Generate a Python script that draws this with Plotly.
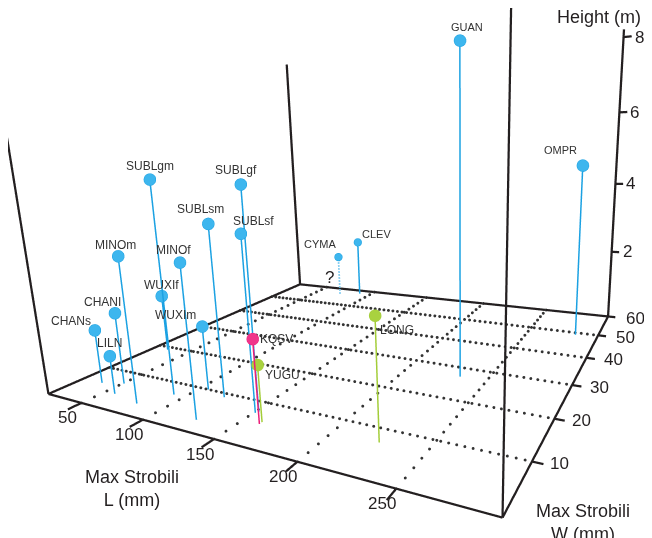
import plotly.graph_objects as go

# ---------------- data ----------------
names = ["CHANs", "CHANI", "LILN", "MINOm", "WUXIf", "SUBLgm", "MINOf", "WUXIm",
         "SUBLsm", "SUBLsf", "SUBLgf", "KQSV", "YUGU", "CYMA", "CLEV", "LONG",
         "GUAN", "OMPR"]
strobili_L = [37, 51, 58, 81, 32, 92, 127, 106, 122, 151, 152, 161, 161, 75, 90, 226, 234, 281]
strobili_W = [5.6, 6.7, 3.8, 2.9, 19, 6.9, 2.7, 10, 9, 7.1, 7.5, 5, 5.5, 56, 58, 7, 27, 49]
height_m = [1.4, 1.85, 0.97, 3.5, 1.6, 5.1, 3.5, 1.6, 4.1, 4.0, 5.0, 1.9, 1.3, 1.4, 1.9, 2.6, 7.7, 4.7]
group = ["blue"] * 11 + ["pink", "green", "blue", "blue", "green", "blue", "blue"]
uncertain = ["CYMA"]

x_ticks = [50, 100, 150, 200, 250]
y_ticks = [10, 20, 30, 40, 50, 60]
z_ticks = [2, 4, 6, 8]
x_lim = (20, 295)
y_lim = (0, 60)
z_lim = (0, 8.2)

# ---------------- layout constants ----------------
OFF = 8                      # default page margin of the html body
W, H = 644, 530
XR = (14, 301); YR = (-3, 63); ZR = (-0.1, 8.3)
camera = dict(eye=dict(x=0.6881, y=-1.2433, z=0.1784),
              center=dict(x=-0.0116, y=-0.0902, z=-0.1435),
              up=dict(x=0.0412, y=0.0243, z=1),
              projection=dict(type="perspective"))
aspect = dict(x=1, y=1.0627, z=0.7218)

colors = {"blue": "#1ba1e2", "pink": "#ec1e79", "green": "#a3cd39"}
ball_colors = {"blue": "#3db6ee", "pink": "#f0358a", "green": "#a9d23f"}
INK = "#231f20"

fig = go.Figure()

# floor grid, dotted
gx, gy, gz = [], [], []
for xv in x_ticks:
    yv = float(y_lim[0])
    while yv <= y_lim[1] + 1e-9:
        gx.append(xv); gy.append(yv); gz.append(0); yv += 2.0
for yv in y_ticks[:-1]:
    xv = float(x_lim[0])
    while xv <= x_lim[1] + 1e-9:
        gx.append(xv); gy.append(yv); gz.append(0); xv += 4.0
fig.add_trace(go.Scatter3d(x=gx, y=gy, z=gz, mode="markers",
                           marker=dict(size=1.7, color="#333333", line=dict(width=0)),
                           hoverinfo="skip", showlegend=False))

# box edges and tick marks
x0, x1 = x_lim; y0, y1 = y_lim; z0, z1 = z_lim
ex_, ey_, ez_ = [], [], []
edges = [((x0, y0, z0), (x1, y0, z0)), ((x1, y0, z0), (x1, y1, z0)),
         ((x1, y1, z0), (x0, y1, z0)), ((x0, y1, z0), (x0, y0, z0)),
         ((x0, y0, z0), (x0, y0, z1)), ((x1, y0, z0), (x1, y0, z1)),
         ((x0, y1, z0), (x0, y1, z1)), ((x1, y1, z0), (x1, y1, z1))]
for a, b in edges:
    ex_ += [a[0], b[0], None]; ey_ += [a[1], b[1], None]; ez_ += [a[2], b[2], None]
for xv in x_ticks:
    ex_ += [xv, xv, None]; ey_ += [y0, y0 - 2, None]; ez_ += [0, 0, None]
for yv in y_ticks:
    ex_ += [x1, x1 + 5, None]; ey_ += [yv, yv, None]; ez_ += [0, 0, None]
for zv in z_ticks:
    ex_ += [x1, x1 + 5, None]; ey_ += [y1, y1, None]; ez_ += [zv, zv, None]
fig.add_trace(go.Scatter3d(x=ex_, y=ey_, z=ez_, mode="lines",
                           line=dict(color=INK, width=4.5),
                           hoverinfo="skip", showlegend=False))

# stems and balls
far = {"CYMA", "CLEV"}
for grp in ["blue", "pink", "green"]:
    sx, sy, sz = [], [], []
    dx, dy, dz = [], [], []
    for n, L, Wd, h, g in zip(names, strobili_L, strobili_W, height_m, group):
        if g != grp:
            continue
        if n in uncertain:
            dx += [L, L, None]; dy += [Wd, Wd, None]; dz += [0, h, None]
        else:
            sx += [L, L, None]; sy += [Wd, Wd, None]; sz += [0, h, None]
    fig.add_trace(go.Scatter3d(x=sx, y=sy, z=sz, mode="lines",
                               line=dict(color=colors[grp], width=3),
                               hoverinfo="skip", showlegend=False))
    if dx:
        fig.add_trace(go.Scatter3d(x=dx, y=dy, z=dz, mode="lines",
                                   line=dict(color=colors[grp], width=3.5, dash="dash"),
                                   hoverinfo="skip", showlegend=False))
    for is_far, msize in [(False, 7), (True, 4.5)]:
        idx = [i for i, g in enumerate(group) if g == grp and ((names[i] in far) == is_far)]
        if not idx:
            continue
        fig.add_trace(go.Scatter3d(
            x=[strobili_L[i] for i in idx], y=[strobili_W[i] for i in idx],
            z=[height_m[i] for i in idx], mode="markers",
            marker=dict(size=msize, color=ball_colors[grp], line=dict(color=colors[grp], width=1)),
            hoverinfo="skip", showlegend=False))

# text
label_offsets = {"CHANs": (-24, 9), "CHANI": (-12, 11), "LILN": (0, 13), "MINOm": (-3, 11),
                 "WUXIf": (0, 11), "SUBLgm": (0, 13), "MINOf": (-6, 12), "WUXIm": (-27, 11),
                 "SUBLsm": (-8, 15), "SUBLsf": (13, 13), "SUBLgf": (-5, 14), "KQSV": (24, 0),
                 "YUGU": (25, -10), "CYMA": (-18, 13), "CLEV": (19, 8), "LONG": (22, -14),
                 "GUAN": (7, 13), "OMPR": (-22, 15)}
small = {"GUAN", "OMPR", "CYMA", "CLEV"}
ann = []
for n, L, Wd, h in zip(names, strobili_L, strobili_W, height_m):
    dxs, dys = label_offsets[n]
    ann.append(dict(x=L, y=Wd, z=h, text=n, showarrow=False, xshift=dxs, yshift=dys,
                    font=dict(family="Liberation Sans", size=11 if n in small else 12,
                              color="#333333")))
for n, L, Wd, h in zip(names, strobili_L, strobili_W, height_m):
    if n in uncertain:
        ann.append(dict(x=L, y=Wd, z=h * 0.45, text="?", showarrow=False, xshift=-10,
                        font=dict(family="Liberation Sans", size=17, color=INK)))
tick_font = dict(family="Liberation Sans", size=17, color=INK)
for xv in x_ticks:
    ann.append(dict(x=xv, y=y0, z=0, text=str(xv), showarrow=False, xshift=-14, yshift=-15,
                    font=tick_font))
for yv in y_ticks:
    ann.append(dict(x=x1, y=yv, z=0, text=str(yv), showarrow=False, xanchor="left",
                    xshift=16, yshift=-2, font=tick_font))
for zv in z_ticks:
    ann.append(dict(x=x1, y=y1, z=zv, text=str(zv), showarrow=False, xanchor="left",
                    xshift=9, yshift=0, font=tick_font))


def px(u):
    return (u - OFF) / W


def py(v):
    return 1 - (v - OFF) / H


ax_style = dict(showgrid=False, zeroline=False, showline=False, showticklabels=False,
                showbackground=False, showspikes=False, ticks="", title=dict(text=""))
title_font = dict(family="Liberation Sans", size=18, color=INK)
fig.update_layout(
    width=W, height=H, margin=dict(l=0, r=0, t=0, b=0), autosize=False,
    paper_bgcolor="white", plot_bgcolor="white", showlegend=False,
    scene=dict(
        domain=dict(x=[0, 1], y=[0, 1]),
        xaxis=dict(range=list(XR), **ax_style),
        yaxis=dict(range=list(YR), **ax_style),
        zaxis=dict(range=list(ZR), **ax_style),
        aspectmode="manual", aspectratio=aspect,
        camera=camera,
        annotations=ann,
        dragmode=False,
    ),
    annotations=[
        dict(x=px(599), y=py(17), xref="paper", yref="paper", text="Height (m)",
             xanchor="center", yanchor="middle", showarrow=False, font=title_font),
        dict(x=px(132), y=py(488), xref="paper", yref="paper", text="Max Strobili<br>L (mm)",
             xanchor="center", yanchor="middle", showarrow=False, font=title_font),
        dict(x=px(583), y=py(522), xref="paper", yref="paper", text="Max Strobili<br>W (mm)",
             xanchor="center", yanchor="middle", showarrow=False, font=title_font),
    ],
)
fig.write_html("out.html")
